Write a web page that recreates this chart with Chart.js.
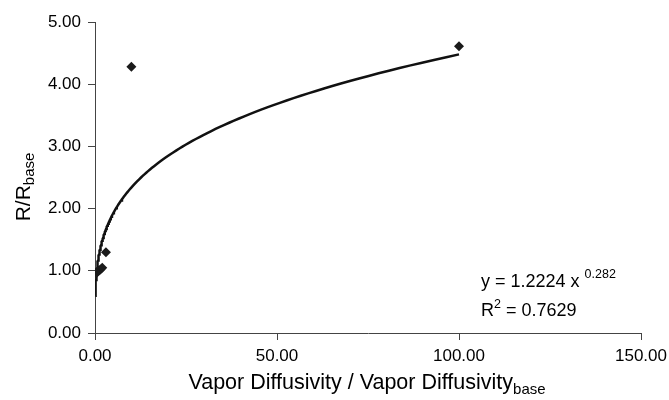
<!DOCTYPE html>
<html>
<head>
<meta charset="utf-8">
<script src="https://cdn.jsdelivr.net/npm/chart.js@4.4.1/dist/chart.umd.min.js"></script>
<style>
  html, body { margin: 0; padding: 0; background: #fff; }
  #wrap { width: 669px; height: 400px; }
</style>
</head>
<body>
<div id="wrap"><canvas id="diffChart"></canvas></div>
<script>
// measured points
const diffRatio = [0.5, 1, 1.5, 2, 3, 10, 100];
const resRatio = [0.97, 1.0, 1.02, 1.05, 1.3, 4.28, 4.61];

// power-law fit y = a * x^b
const fitA = 1.2224;
const fitB = 0.282;
const fitR2 = '0.7629';
const fitFrom = 0.08;
const fitTo = 100;

const xTicks = [0, 50, 100, 150];
const yTicks = [0, 1, 2, 3, 4, 5];

const FONT = '"Liberation Sans", Arial, sans-serif';

// trend line points along the fitted curve
const trendPts = [];
for (let i = 0; i <= 200; i++) {
    const t = i / 200;
    const x = fitFrom * Math.pow(fitTo / fitFrom, t);
    trendPts.push({ x: x, y: fitA * Math.pow(x, fitB) });
}

const scatterPts = diffRatio.map((x, i) => ({ x: x, y: resRatio[i] }));

// text with a subscript / superscript piece
function drawRich(ctx, parts, x, y, align) {
    let total = 0;
    parts.forEach(p => {
        ctx.font = p.size + 'px ' + FONT;
        total += ctx.measureText(p.text).width;
    });
    let cx = align === 'center' ? x - total / 2 : x;
    parts.forEach(p => {
        ctx.font = p.size + 'px ' + FONT;
        ctx.fillText(p.text, cx, y + (p.dy || 0));
        cx += ctx.measureText(p.text).width;
    });
}

const labelsPlugin = {
    id: 'labels',
    afterDraw(chart) {
        const ctx = chart.ctx;
        ctx.save();
        ctx.fillStyle = '#000';
        ctx.textAlign = 'left';
        ctx.textBaseline = 'alphabetic';

        // x axis title
        drawRich(ctx, [
            { text: 'Vapor Diffusivity / Vapor Diffusivity', size: 21.5 },
            { text: 'base', size: 15, dy: 5 }
        ], 367, 389, 'center');

        // y axis title
        ctx.save();
        ctx.translate(30, 187);
        ctx.rotate(-Math.PI / 2);
        drawRich(ctx, [
            { text: 'R/R', size: 21 },
            { text: 'base', size: 15, dy: 4 }
        ], 0, 0, 'center');
        ctx.restore();

        // fit equation
        drawRich(ctx, [
            { text: 'y = ' + fitA + ' x ', size: 18 },
            { text: String(fitB), size: 12.5, dy: -9 }
        ], 481, 287, 'left');
        drawRich(ctx, [
            { text: 'R', size: 18 },
            { text: '2', size: 12.5, dy: -8 },
            { text: ' = ' + fitR2, size: 18 }
        ], 481, 316, 'left');
        ctx.restore();
    }
};

const ctx = document.getElementById('diffChart').getContext('2d');
const diffChart = new Chart(ctx, {
    type: 'scatter',
    data: {
        datasets: [
            {
                label: 'Measured',
                data: scatterPts,
                pointStyle: 'rectRot',
                pointRadius: 5,
                pointBackgroundColor: '#1a1a1a',
                pointBorderColor: '#1a1a1a',
                pointBorderWidth: 0
            },
            {
                label: 'Power fit',
                data: trendPts,
                showLine: true,
                borderColor: '#111',
                borderWidth: 2.5,
                pointRadius: 0,
                tension: 0
            }
        ]
    },
    options: {
        responsive: true,
        maintainAspectRatio: false,
        animation: false,
        layout: { padding: { left: 0, right: 28, top: 22, bottom: 0 } },
        plugins: {
            legend: { display: false },
            tooltip: { enabled: false }
        },
        scales: {
            x: {
                type: 'linear',
                min: 0,
                max: 150,
                afterBuildTicks: s => { s.ticks = xTicks.map(v => ({ value: v })); },
                afterFit: s => { s.height = 67; s.paddingRight = 0; s.paddingLeft = 0; },
                grid: { drawOnChartArea: false, drawTicks: true, tickLength: 7, color: '#444' },
                border: { color: '#444', width: 1 },
                ticks: {
                    color: '#000',
                    padding: 6,
                    font: { family: FONT, size: 17 },
                    callback: v => v.toFixed(2)
                }
            },
            y: {
                type: 'linear',
                min: 0,
                max: 5,
                afterBuildTicks: s => { s.ticks = yTicks.map(v => ({ value: v })); },
                afterFit: s => { s.width = 95; s.paddingTop = 0; s.paddingBottom = 0; },
                grid: { drawOnChartArea: false, drawTicks: true, tickLength: 7, color: '#444' },
                border: { color: '#444', width: 1 },
                ticks: {
                    color: '#000',
                    padding: 7,
                    font: { family: FONT, size: 17 },
                    callback: v => v.toFixed(2)
                }
            }
        }
    },
    plugins: [labelsPlugin]
});
</script>
</body>
</html>
